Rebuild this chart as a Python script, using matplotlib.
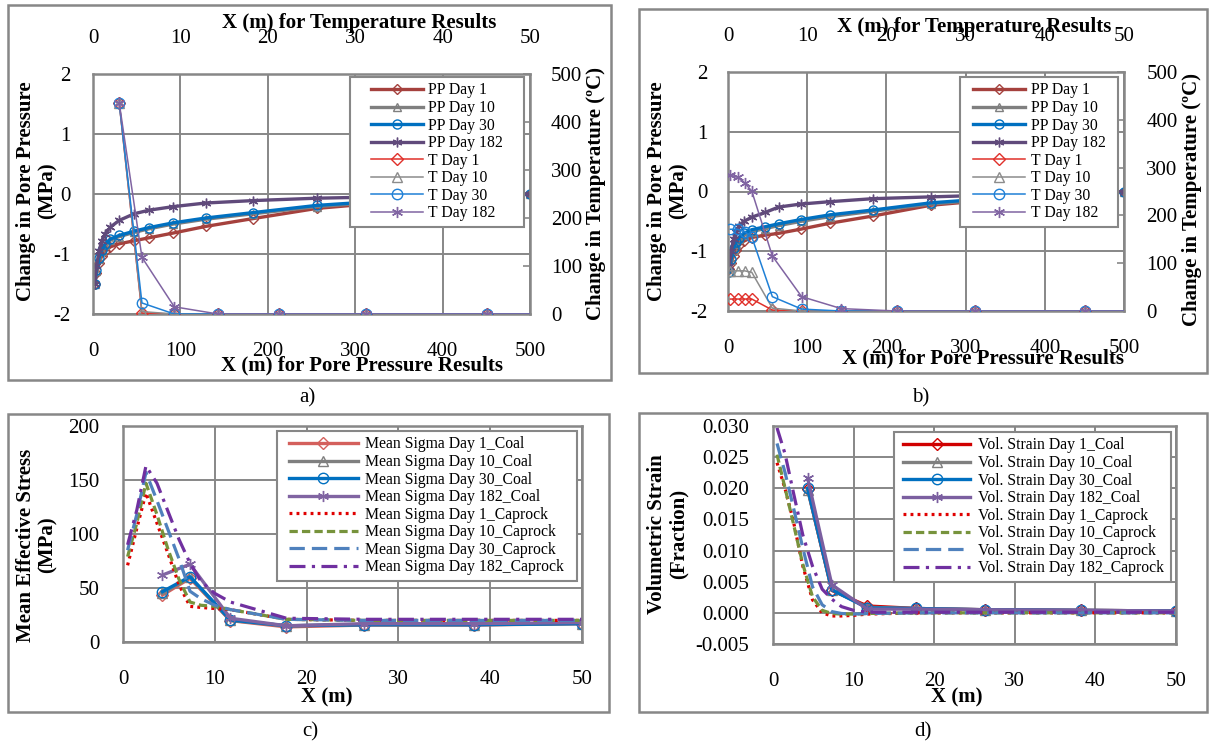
import numpy as np
import matplotlib
matplotlib.use("Agg")
import matplotlib.pyplot as plt
from matplotlib.patches import Rectangle
from matplotlib.lines import Line2D
from matplotlib.legend_handler import HandlerLine2D
from matplotlib.ticker import FormatStrFormatter

plt.rcParams['font.family'] = ['Liberation Serif', 'DejaVu Serif']
plt.rcParams['font.size'] = 15
plt.rcParams['axes.unicode_minus'] = False

# ---------------- data ----------------
# panel a: pore pressure (bottom x axis, m) and temperature (top x axis, m)
pp_x_a = [2, 4, 7, 10, 14, 20, 30, 47, 64, 92, 129, 183, 256, 360, 500]
pp_d1_a = [-1.5, -1.32, -1.15, -1.03, -0.95, -0.88, -0.83, -0.78, -0.73, -0.65, -0.54, -0.41, -0.24, -0.11, 0]
pp_d10_a = [-1.5, -1.28, -1.08, -0.95, -0.85, -0.77, -0.71, -0.64, -0.58, -0.50, -0.42, -0.33, -0.21, -0.10, 0]
pp_d30_a = [-1.5, -1.27, -1.06, -0.93, -0.83, -0.75, -0.69, -0.62, -0.56, -0.48, -0.40, -0.31, -0.19, -0.09, 0]
pp_d182_a = [-1.5, -1.20, -0.95, -0.78, -0.66, -0.55, -0.44, -0.33, -0.27, -0.21, -0.15, -0.11, -0.07, -0.04, 0]

t_x_a = [3.0, 5.6, 9.3, 14.3, 21.3, 31.2, 45.1, 65.0]
t_d1_a = [440, 2, 0, 0, 0, 0, 0, 0]
t_d10_a = [440, 5, 0, 0, 0, 0, 0, 0]
t_d30_a = [440, 23, 0, 0, 0, 0, 0, 0]
t_d182_a = [440, 118, 15, 0, 0, 0, 0, 0]

# panel b
pp_x_b = [1.5, 4, 7, 10, 14, 20, 30, 47, 64, 92, 129, 183, 256, 360, 500]
pp_d1_b = [-1.30, -1.20, -1.08, -0.98, -0.90, -0.83, -0.77, -0.73, -0.70, -0.63, -0.53, -0.41, -0.23, -0.11, 0]
pp_d10_b = [-1.35, -1.15, -0.98, -0.88, -0.80, -0.73, -0.67, -0.62, -0.57, -0.50, -0.42, -0.33, -0.21, -0.10, 0]
pp_d30_b = [-1.35, -1.13, -0.95, -0.85, -0.77, -0.70, -0.64, -0.59, -0.54, -0.47, -0.39, -0.31, -0.19, -0.09, 0]
pp_d182_b = [-1.25, -1.00, -0.80, -0.67, -0.57, -0.50, -0.43, -0.35, -0.26, -0.21, -0.17, -0.12, -0.09, -0.05, 0]

t_x_b = [0.3, 1.2, 2.1, 3.0, 5.6, 9.3, 14.3, 21.3, 31.2, 45.1, 65.0]
t_d1_b = [25, 25, 25, 25, 2, 0, 0, 0, 0, 0, 0]
t_d10_b = [84, 84, 84, 81, 6, 0, 0, 0, 0, 0, 0]
t_d30_b = [171, 171, 166, 155, 30, 4, 0, 0, 0, 0, 0]
t_d182_b = [284, 280, 268, 251, 115, 30, 5, 0, 0, 0, 0]

# panel c / d: coal (markers) and caprock (dashed)
coal_x = [4.3, 7.3, 11.7, 17.8, 26.3, 38.2, 50]
cap_x = [0.5, 1.5, 2.5, 3.7, 4.9, 6.1, 7.3, 8.5, 10, 11.7, 17.8, 26.3, 38.2, 50]

ms_coal_d1 = [43.5, 59, 19.8, 14, 15.7, 15.7, 17]
ms_coal_d10 = [45, 60, 20, 15, 16, 16, 17]
ms_coal_d30 = [46.6, 60.5, 20.4, 15, 16, 16, 17]
ms_coal_d182 = [62, 72, 22, 15, 17, 17, 18]
ms_cap_d1 = [71, 105, 138, 110, 82, 53, 33, 32, 31, 30, 21, 20, 20, 20]
ms_cap_d10 = [79, 110, 147, 118, 86, 58, 37, 34, 33, 30, 21, 20, 20, 20]
ms_cap_d30 = [85, 118, 157, 131, 104, 77, 47, 40, 34, 30, 21, 20, 20, 20]
ms_cap_d182 = [90, 122, 163, 147, 121, 95, 73, 56, 45, 37, 22, 21, 21, 21]

vs_coal_d1 = [0.0199, 0.0036, 0.0011, 0.0007, 0.0005, 0.0004, 0.0003]
vs_coal_d10 = [0.0198, 0.0037, 0.0009, 0.0007, 0.0005, 0.0004, 0.0003]
vs_coal_d30 = [0.0200, 0.0037, 0.0008, 0.0007, 0.0005, 0.0004, 0.0003]
vs_coal_d182 = [0.0216, 0.0045, 0.0006, 0.0006, 0.0005, 0.0004, 0.0003]
vs_cap_d1 = [0.0241, 0.0199, 0.0149, 0.0075, 0.0021, 0.0000, -0.0005, -0.0005, -0.0004, -0.0002, 0, 0, 0, 0]
vs_cap_d10 = [0.0254, 0.0200, 0.0145, 0.0078, 0.0026, 0.0004, -0.0001, -0.0002, -0.0002, -0.0001, 0, 0, 0, 0]
vs_cap_d30 = [0.0272, 0.0225, 0.0171, 0.0104, 0.0042, 0.0013, 0.0002, -0.0001, -0.0002, -0.0001, 0, 0, 0, 0]
vs_cap_d182 = [0.0297, 0.0255, 0.0195, 0.0125, 0.0075, 0.0038, 0.0022, 0.0010, 0.0004, 0.0001, 0.0001, 0.0001, 0.0001, 0.0001]

days = ['1', '10', '30', '182']

# ---------------- layout helpers ----------------
W, H = 1211, 745
GRID = '#878787'
fig = plt.figure(figsize=(W / 100, H / 100), dpi=100)


def rect(x0, y0, x1, y1):
    return [x0 / W, 1 - y1 / H, (x1 - x0) / W, (y1 - y0) / H]


def ftext(x, y, s, **kw):
    fig.text(x / W, 1 - y / H, s, ha='center', va='center', **kw)


def frame(x0, y0, x1, y1):
    fig.add_artist(Rectangle((x0 / W, 1 - y1 / H), (x1 - x0) / W, (y1 - y0) / H,
                             transform=fig.transFigure, fill=False, ec=GRID, lw=1.8))


def base_axes(r):
    ax = fig.add_axes(r)
    for s in ax.spines.values():
        s.set_color(GRID)
        s.set_linewidth(1.8)
    ax.grid(True, color=GRID, lw=1.4)
    ax.set_axisbelow(True)
    ax.tick_params(length=0, labelsize=15)
    return ax


def add_legend(ax, handles, box, hl, xpad, tpad, fs=11.3):
    x0, y0, x1, y1 = box
    leg = ax.legend(handles=handles, loc='upper left', mode='expand',
                    bbox_to_anchor=(x0 / W, 1 - y1 / H, (x1 - x0) / W, (y1 - y0) / H),
                    bbox_transform=fig.transFigure, fontsize=fs, frameon=True, fancybox=False,
                    edgecolor=GRID, framealpha=1, borderpad=0.35, labelspacing=0.1,
                    handlelength=hl, handletextpad=tpad, borderaxespad=0,
                    handler_map={Line2D: HandlerLine2D(xpad=xpad)})
    leg.get_frame().set_linewidth(1.5)
    leg.set_zorder(20)
    return leg


star = (6, 2, 0)
pp_cols = ['#A5413D', '#7F7F7F', '#0070C0', '#604A7B']
t_cols = ['#E0302A', '#8C8C8C', '#1F80D6', '#8064A2']
mk = ['D', '^', 'o', star]
mks = [5, 6, 6.5, 7]


def temp_panel(r, ppx, pps, tx, ts, pads, legbox, legpar):
    ax = base_axes(r)
    ax.set_xlim(0, 500)
    ax.set_ylim(-2, 2)
    ax.set_xticks(range(0, 501, 100))
    ax.set_yticks([-2, -1, 0, 1, 2])
    ax.tick_params(axis='x', pad=pads[0])
    ax.tick_params(axis='y', pad=pads[1])
    handles = []
    for i in range(4):
        h, = ax.plot(ppx, pps[i], color=pp_cols[i], lw=2.4, marker=mk[i], ms=mks[i],
                     mfc='none', mec=pp_cols[i], mew=1.0, label='PP Day ' + days[i])
        handles.append(h)
    ax2 = fig.add_axes(r, facecolor='none')
    for s in ax2.spines.values():
        s.set_visible(False)
    ax2.set_xlim(0, 50)
    ax2.set_ylim(0, 500)
    ax2.xaxis.tick_top()
    ax2.yaxis.tick_right()
    ax2.set_xticks(range(0, 51, 10))
    ax2.set_yticks(range(0, 501, 100))
    ax2.tick_params(axis='x', length=0, pad=pads[2], labelsize=15)
    ax2.tick_params(axis='y', direction='in', length=5, width=1.2, color=GRID,
                    pad=pads[3], labelsize=15)
    for i in range(4):
        h, = ax2.plot(tx, ts[i], color=t_cols[i], lw=1.1, marker=mk[i], ms=mks[i] + 1,
                      mfc='none', mec=t_cols[i], mew=1.0, label='T Day ' + days[i])
        handles.append(h)
    add_legend(ax2, handles, legbox, *legpar)
    return ax, ax2


# ---------------- panel a ----------------
frame(8, 5, 611, 380)
temp_panel(rect(93, 74, 530, 314), pp_x_a, [pp_d1_a, pp_d10_a, pp_d30_a, pp_d182_a],
           t_x_a, [t_d1_a, t_d10_a, t_d30_a, t_d182_a], (20, 16, 19, 15),
           (350, 77, 524, 220), (4.3, 0.99, 0.32))
ftext(359, 23, 'X (m) for Temperature Results', fontweight='bold', fontsize=15)
ftext(362, 365, 'X (m) for Pore Pressure Results', fontweight='bold', fontsize=15)
ftext(37, 191, 'Change in Pore Pressure\n(MPa)', fontweight='bold', fontsize=15,
      rotation=90, linespacing=1.1)
ftext(596, 194, 'Change in Temperature (ºC)', fontweight='bold', fontsize=15, rotation=90)
ftext(307, 398, 'a)', fontsize=15)

# ---------------- panel b ----------------
frame(639, 9, 1207, 373)
temp_panel(rect(728, 72, 1124, 311), pp_x_b, [pp_d1_b, pp_d10_b, pp_d30_b, pp_d182_b],
           t_x_b, [t_d1_b, t_d10_b, t_d30_b, t_d182_b], (20, 15, 19, 16),
           (960, 77, 1118, 218), (3.8, 0.48, 0.36))
ftext(974, 27, 'X (m) for Temperature Results', fontweight='bold', fontsize=15)
ftext(983, 358, 'X (m) for Pore Pressure Results', fontweight='bold', fontsize=15)
ftext(668, 191, 'Change in Pore Pressure\n(MPa)', fontweight='bold', fontsize=15,
      rotation=90, linespacing=1.1)
ftext(1192, 199, 'Change in Temperature (ºC)', fontweight='bold', fontsize=15, rotation=90)
ftext(921, 398, 'b)', fontsize=15)

# ---------------- panels c and d ----------------
coal_cols_c = ['#D4605C', '#7F7F7F', '#0070C0', '#8064A2']
coal_cols_d = ['#D00000', '#7F7F7F', '#0070C0', '#7B5FA0']
cap_cols = ['#E00000', '#77933C', '#4F81BD', '#7030A0']
cap_dash = [(0, (0.9, 1.3)), (0, (2.6, 1.3)), (0, (4.8, 2.2)), (0, (5, 2, 1, 2))]


def strain_panel(r, coal, cap, name, legbox, legpar, col_coal):
    ax = base_axes(r)
    ax.set_xlim(0, 50)
    ax.set_xticks(range(0, 51, 10))
    ax.tick_params(axis='x', pad=20)
    ax.tick_params(axis='y', pad=17)
    handles = []
    for i in range(4):
        h, = ax.plot(coal_x, coal[i], color=col_coal[i], lw=2.4, marker=mk[i], ms=mks[i] + 1,
                     mfc='none', mec=col_coal[i], mew=1.0,
                     label=name + ' Day ' + days[i] + '_Coal')
        handles.append(h)
    for i in range(4):
        h, = ax.plot(cap_x, cap[i], color=cap_cols[i], lw=2.3, linestyle=cap_dash[i],
                     label=name + ' Day ' + days[i] + '_Caprock')
        handles.append(h)
    add_legend(ax, handles, legbox, *legpar)
    return ax


frame(8, 414, 609, 712)
axc = strain_panel(rect(123, 426, 582, 642),
                   [ms_coal_d1, ms_coal_d10, ms_coal_d30, ms_coal_d182],
                   [ms_cap_d1, ms_cap_d10, ms_cap_d30, ms_cap_d182],
                   'Mean Sigma', (277, 431, 577, 573), (4.8, 0.41, 0.45), coal_cols_c)
axc.set_ylim(0, 200)
axc.set_yticks(range(0, 201, 50))
ftext(327, 697, 'X (m)', fontweight='bold', fontsize=15)
ftext(37, 545, 'Mean Effective Stress\n(MPa)', fontweight='bold', fontsize=15,
      rotation=90, linespacing=1.1)
ftext(310, 732, 'c)', fontsize=15)

frame(639, 413, 1207, 712)
axd = strain_panel(rect(773, 426, 1176, 644),
                   [vs_coal_d1, vs_coal_d10, vs_coal_d30, vs_coal_d182],
                   [vs_cap_d1, vs_cap_d10, vs_cap_d30, vs_cap_d182],
                   'Vol. Strain', (894, 432, 1171, 573), (4.5, 0.25, 0.48), coal_cols_d)
axd.set_ylim(-0.005, 0.030)
axd.set_yticks(np.arange(-0.005, 0.0301, 0.005))
axd.yaxis.set_major_formatter(FormatStrFormatter('%.3f'))
ftext(957, 697, 'X (m)', fontweight='bold', fontsize=15)
ftext(668, 534, 'Volumetric Strain\n(Fraction)', fontweight='bold', fontsize=15,
      rotation=90, linespacing=1.1)
ftext(923, 732, 'd)', fontsize=15)

fig.savefig('out.png', dpi=100)
